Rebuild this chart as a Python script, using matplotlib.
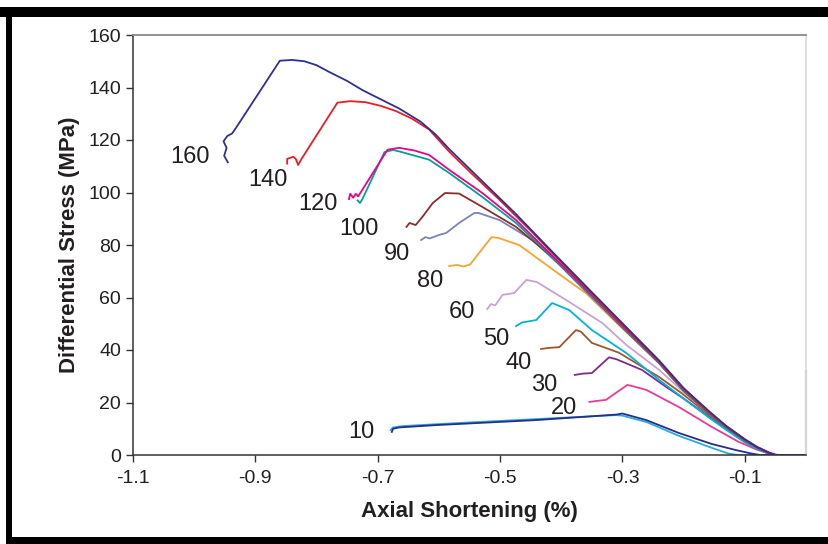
import matplotlib
matplotlib.use("Agg")
import matplotlib.pyplot as plt
from matplotlib.patches import Rectangle

plt.rcParams['font.family'] = ['Liberation Sans', 'DejaVu Sans']
plt.rcParams['axes.unicode_minus'] = False

# --- curves: axial shortening (%) vs differential stress (MPa) ---
x_160 = [-0.945, -0.951, -0.947, -0.952, -0.946, -0.938, -0.932, -0.86, -0.84, -0.82, -0.80, -0.78, -0.75, -0.725,
         -0.695, -0.665, -0.63, -0.605, -0.583, -0.53, -0.475, -0.415, -0.35, -0.295, -0.24, -0.2, -0.16, -0.13,
         -0.1, -0.08, -0.06, -0.05, 0.0]
y_160 = [111.5, 114, 117, 119.5, 121.5, 122.5, 124.5, 150.2, 150.5, 150, 148.5, 146, 142.5, 139,
         135.5, 132, 127, 122, 116.5, 104.5, 92, 77.5, 62, 49, 36, 25.5, 17, 11,
         6, 3, 0.8, 0, 0]

x_140 = [-0.848, -0.848, -0.838, -0.834, -0.83, -0.824, -0.766, -0.745, -0.72, -0.695, -0.67, -0.643, -0.616,
         -0.583, -0.55, -0.5, -0.45, -0.415, -0.35, -0.295, -0.24, -0.2, -0.16, -0.13, -0.1, -0.08, -0.06, -0.05, 0.0]
y_140 = [111, 112.8, 113.6, 112.8, 110.5, 113, 134.2, 134.8, 134.4, 133, 131, 128, 124,
         115.5, 108, 97, 85.5, 77, 61.5, 48.5, 35.5, 25, 16.5, 10.8, 5.8, 3, 0.8, 0, 0]

x_120 = [-0.747, -0.745, -0.74, -0.736, -0.732, -0.684, -0.665, -0.64, -0.616, -0.583, -0.529, -0.474,
         -0.415, -0.35, -0.295, -0.24, -0.2, -0.16, -0.13, -0.1, -0.08, -0.06, -0.05, 0.0]
y_120 = [97.5, 99.5, 98, 99.5, 98.5, 116.3, 117, 116, 114.3, 108.6, 99.8, 89.5,
         76, 61, 48, 35.5, 25, 16.5, 10.8, 5.8, 3, 0.8, 0, 0]

x_100 = [-0.733, -0.729, -0.725, -0.689, -0.675, -0.664, -0.616, -0.583, -0.529, -0.474,
         -0.415, -0.35, -0.295, -0.24, -0.2, -0.16, -0.13, -0.1, -0.08, -0.06, -0.05, 0.0]
y_100 = [97, 96, 97.5, 115.4, 116.2, 115.6, 112.5, 107.4, 98.3, 88.4,
         75.5, 60.5, 47.5, 35, 24.5, 16, 10.5, 5.5, 2.8, 0.7, 0, 0]

x_br = [-0.653, -0.648, -0.638, -0.627, -0.61, -0.59, -0.567, -0.529, -0.474, -0.415, -0.35, -0.295,
        -0.24, -0.2, -0.16, -0.13, -0.1, -0.08, -0.06, -0.05, 0.0]
y_br = [86.9, 88.4, 87.6, 90.7, 96, 99.8, 99.6, 94.5, 86.9, 75.5, 60.5, 47.5,
        35, 24.5, 16, 10.5, 5.5, 2.8, 0.7, 0, 0]

x_90 = [-0.629, -0.622, -0.615, -0.6, -0.588, -0.567, -0.542, -0.535, -0.501, -0.447, -0.403, -0.35, -0.295,
        -0.24, -0.2, -0.16, -0.13, -0.1, -0.08, -0.06, -0.05, 0.0]
y_90 = [81.9, 83, 82.5, 83.8, 84.6, 88.4, 92.2, 92.2, 89.5, 81.9, 72.4, 60, 47.5,
        35, 24.5, 16, 10.5, 5.5, 2.8, 0.7, 0, 0]

x_80 = [-0.583, -0.57, -0.56, -0.549, -0.514, -0.503, -0.469, -0.41, -0.359, -0.306, -0.24,
        -0.2, -0.16, -0.13, -0.1, -0.08, -0.06, -0.05, 0.0]
y_80 = [72, 72.4, 71.8, 72.6, 83, 82.7, 80, 70, 61.5, 49.5, 35,
        24.5, 16, 10.5, 5.5, 2.8, 0.7, 0, 0]

x_60 = [-0.521, -0.515, -0.508, -0.496, -0.477, -0.457, -0.44, -0.387, -0.333, -0.294, -0.24, -0.2,
        -0.16, -0.13, -0.1, -0.08, -0.06, -0.045, 0.0]
y_60 = [55.6, 57.5, 57, 61, 61.7, 66.7, 65.9, 58.3, 50.3, 42, 32.4, 24,
        16, 11, 6, 3.2, 1, 0, 0]

x_50 = [-0.474, -0.464, -0.441, -0.415, -0.387, -0.35, -0.294, -0.24, -0.2, -0.16, -0.13, -0.1,
        -0.08, -0.06, -0.05, 0.0]
y_50 = [49.1, 50.5, 51.4, 57.9, 55.2, 47.6, 38.9, 28.6, 21.5, 14.5, 9.5, 4.8,
        2.3, 0.5, 0, 0]

x_40 = [-0.433, -0.42, -0.403, -0.376, -0.368, -0.35, -0.306, -0.24, -0.203, -0.16, -0.13, -0.1,
        -0.08, -0.06, -0.05, 0.0]
y_40 = [40.4, 40.8, 41.1, 47.6, 47, 42.7, 39, 29.7, 23.5, 15.5, 10.2, 5.2,
        2.5, 0.6, 0, 0]

x_30 = [-0.378, -0.365, -0.35, -0.322, -0.31, -0.268, -0.229, -0.2, -0.16, -0.13, -0.1,
        -0.08, -0.06, -0.05, 0.0]
y_30 = [30.5, 31, 31.2, 37.2, 36.5, 32.4, 26, 21.5, 14.8, 9.8, 5,
        2.4, 0.6, 0, 0]

x_20 = [-0.354, -0.345, -0.327, -0.292, -0.28, -0.261, -0.208, -0.154, -0.11, -0.08, -0.06, -0.05, 0.0]
y_20 = [20.2, 20.5, 21, 26.7, 26, 24.8, 18.3, 10.7, 5, 2, 0.5, 0, 0]

x_10a = [-0.679, -0.675, -0.66, -0.6, -0.44, -0.31, -0.3, -0.26, -0.21, -0.155, -0.126, -0.11, 0.0]
y_10a = [9.5, 10.5, 11, 11.8, 13.7, 15.2, 15, 12.5, 7.5, 2.8, 0.5, 0, 0]

x_10b = [-0.677, -0.675, -0.665, -0.604, -0.441, -0.31, -0.3, -0.261, -0.208, -0.154, -0.115, -0.09, -0.075, 0.0]
y_10b = [8.8, 10, 10.5, 11.4, 13.3, 15.4, 15.8, 13.3, 8.4, 4.2, 1.9, 0.6, 0, 0]

series = [
    (x_10a, y_10a, '#29ABE2'),
    (x_10b, y_10b, '#262F87'),
    (x_20, y_20, '#EE3A95'),
    (x_30, y_30, '#7D2B8B'),
    (x_40, y_40, '#A0562D'),
    (x_50, y_50, '#00B3DC'),
    (x_60, y_60, '#C9A2D4'),
    (x_80, y_80, '#F7A42F'),
    (x_90, y_90, '#7A85B3'),
    (x_br, y_br, '#8B2E2A'),
    (x_100, y_100, '#00A19A'),
    (x_120, y_120, '#EC008C'),
    (x_140, y_140, '#ED1C24'),
    (x_160, y_160, '#2E3192'),
]

# confining pressure labels
lab_text = ['160', '140', '120', '100', '90', '80', '60', '50', '40', '30', '20', '10']
lab_x = [-1.007, -0.88, -0.798, -0.730, -0.669, -0.615, -0.563, -0.506, -0.469, -0.428, -0.395, -0.726]
lab_y = [113.5, 104.8, 95.6, 86, 76.6, 66.3, 54.5, 44.2, 35, 26.7, 17.9, 8.8]

x_ticks = [-1.1, -0.9, -0.7, -0.5, -0.3, -0.1]
y_ticks = [0, 20, 40, 60, 80, 100, 120, 140, 160]

fig = plt.figure(figsize=(8.29, 5.44), dpi=100)
ax = fig.add_axes([133 / 829, 89 / 544, 673 / 829, 420 / 544])

for xs, ys, c in series:
    ax.plot(xs, ys, color=c, lw=1.3, solid_joinstyle='round')

for t, x, y in zip(lab_text, lab_x, lab_y):
    ax.text(x, y, t, fontsize=17, color='#231F20', ha='center', va='center')

ax.set_xlim(-1.1, 0.0)
ax.set_ylim(0, 160)
ax.set_xticks(x_ticks)
ax.set_xticklabels(['%.1f' % v for v in x_ticks])
ax.set_yticks(y_ticks)
ax.tick_params(labelsize=14, colors='#333333', labelcolor='#231F20', direction='out', length=5, width=1)
ax.tick_params(axis='x', pad=6)

for s in ['left', 'bottom']:
    ax.spines[s].set_color('#333333')
    ax.spines[s].set_linewidth(1.1)
ax.spines['top'].set_color('#8a8a8a')
ax.spines['top'].set_linewidth(1.3)
ax.spines['right'].set_color('#dddddd')
ax.spines['right'].set_linewidth(1.3)
ax.plot([0, 0], [0, 32], color='#8a8a8a', lw=1.5, clip_on=False)

ax.set_xlabel('Axial Shortening (%)', fontsize=16, fontweight='bold', color='#231F20', labelpad=10)
ax.set_ylabel('Differential Stress (MPa)', fontsize=16, fontweight='bold', color='#231F20', labelpad=6)

# black frame around the picture
fig.add_artist(Rectangle((0, 1 - 17 / 544), 1.0, 10 / 544, transform=fig.transFigure, color='black', lw=0))
fig.add_artist(Rectangle((6 / 829, 0), 6 / 829, 1 - 7 / 544, transform=fig.transFigure, color='black', lw=0))
fig.add_artist(Rectangle((6 / 829, 0), 1.0, 7 / 544, transform=fig.transFigure, color='black', lw=0))

fig.savefig('out.png', dpi=100)
